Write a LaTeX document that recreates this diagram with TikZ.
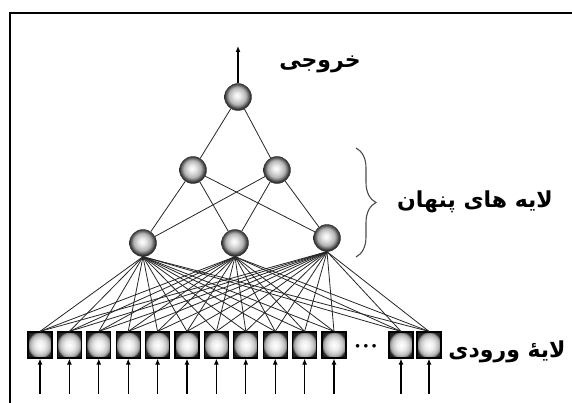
\documentclass[tikz,border=0pt]{standalone}
\usepackage{fontspec}
\usetikzlibrary{arrows.meta,positioning,decorations.pathreplacing}
\newfontfamily\fa[Script=Arabic]{DejaVu Sans}
\TeXXeTstate=1
\pgfdeclareradialshading{glow}{\pgfpoint{-2bp}{3bp}}{color(0bp)=(white);color(7bp)=(gray!20);color(16bp)=(gray!60);color(23bp)=(black!75);color(26bp)=(black!90);color(50bp)=(black)}
\pgfdeclareradialshading{glowbox}{\pgfpoint{0bp}{0bp}}{color(0bp)=(white);color(10bp)=(gray!15);color(18bp)=(gray!45);color(23bp)=(gray!80);color(26bp)=(black!85);color(50bp)=(black)}

\begin{document}
\begin{tikzpicture}[x=1pt,y=-1pt,>={Latex[length=6pt,width=5pt]},
  neuron/.style={circle,minimum size=27pt,inner sep=0pt,draw=black!80,shading=glow},
  inbox/.style={rectangle,minimum width=24pt,minimum height=26pt,inner sep=0pt,draw=black,line width=1.2pt,shading=glowbox},
  link/.style={black!85,line width=0.8pt},
  lbl/.style={font=\fa\bfseries\fontsize{22}{24}\selectfont}]
\useasboundingbox (0,0) rectangle (572,403);
\draw[line width=1.5pt] (10,403) -- (10,13) -- (572,13);
% neurons
\node[neuron] (o) at (238,97) {};
\node[neuron] (h21) at (193,170) {};
\node[neuron] (h22) at (277,170) {};
\node[neuron] (h11) at (143,243) {};
\node[neuron] (h12) at (235,243) {};
\node[neuron] (h13) at (327,238) {};
% input layer
\foreach \i in {1,...,11}
  \node[inbox] (i\i) at ({40+29.4*(\i-1)},345) {};
\node[inbox] (i12) at (401,345) {};
\node[inbox] (i13) at (429,345) {};
\node[font=\small] (dots) at (366,346) {$\bullet\,\bullet\,\bullet$};
% connections
\coordinate (top) at (238,46);
\draw[->,line width=1.3pt] (o) -- (top);
\foreach \a in {h21,h22} \draw[link] (o) -- (\a);
\foreach \a in {h21,h22} \foreach \b in {h11,h12,h13} \draw[link] (\a) -- (\b);
\foreach \b in {h11,h12,h13} \foreach \i in {1,...,13} \draw[link] (\b.south) -- (i\i.north);
\foreach \i in {1,...,13} {
  \path (i\i.south) ++(0,35) coordinate (s\i);
  \draw[->,line width=1.2pt] (s\i) -- (i\i);
}
\coordinate (bt) at (356,148);
\coordinate (bb) at (356,257);
\draw[decorate,decoration={brace,amplitude=20pt},black!70,line width=1.1pt] (bt) -- (bb);
% labels
\node[lbl] (ol) at (320,64) {\beginR خروجی\endR};
\node[lbl] (hl) at (475,202) {\beginR لایه های پنهان\endR};
\node[lbl] (il) at (507,352) {\beginR لایهٔ ورودی\endR};
\end{tikzpicture}
\end{document}
